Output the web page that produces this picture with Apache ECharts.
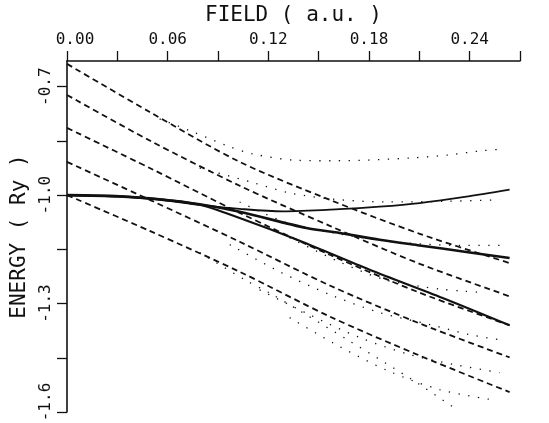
<!DOCTYPE html>
<html>
<head>
<meta charset="utf-8">
<script src="https://cdn.jsdelivr.net/npm/echarts@6/dist/echarts.min.js"></script>
<style>
  html, body { margin: 0; padding: 0; background: #fff; }
  #chart { width: 549px; height: 423px; }
</style>
</head>
<body>
<div id="chart"></div>
<script>
// axis ticks / labels
const xTickValues = [0, 0.03, 0.06, 0.09, 0.12, 0.15, 0.18, 0.21, 0.24, 0.27]
const xLabelValues = [0, 0.06, 0.12, 0.18, 0.24]
const yTickValues = [-1.6, -1.45, -1.3, -1.15, -1.0, -0.85, -0.7]
const yLabelValues = [-1.6, -1.3, -1.0, -0.7]

// solid curves  [field, energy]
const solid1 = [[0, -1.0], [0.0314, -1.0047], [0.0552, -1.013], [0.0791, -1.027], [0.1029, -1.038],
  [0.1285, -1.045], [0.1625, -1.039], [0.1863, -1.032], [0.2102, -1.022], [0.237, -1.005], [0.2638, -0.985]]
const solid2 = [[0, -1.0], [0.0314, -1.0033], [0.0552, -1.0116], [0.0791, -1.0254], [0.1029, -1.0461],
  [0.1427, -1.0911], [0.1625, -1.1049], [0.1864, -1.1234], [0.2102, -1.1392], [0.237, -1.1566], [0.2638, -1.174]]
const solid3 = [[0, -1.0], [0.0314, -1.0033], [0.0552, -1.0116], [0.0791, -1.0267], [0.1029, -1.0635],
  [0.1387, -1.1262], [0.1804, -1.2063], [0.2239, -1.2844], [0.2638, -1.3601]]

// dashed curves
const dashed1 = [[0, -0.637], [0.0493, -0.770], [0.1029, -0.908], [0.1566, -1.013], [0.2102, -1.107], [0.2638, -1.188]]
const dashed2 = [[0, -0.723], [0.0493, -0.849], [0.1029, -0.974], [0.1566, -1.085], [0.2102, -1.190], [0.2638, -1.280]]
const dashed3 = [[0, -0.814], [0.0493, -0.925], [0.1029, -1.049], [0.1566, -1.165], [0.2102, -1.270], [0.2638, -1.360]]
const dashed4 = [[0, -0.908], [0.0493, -1.013], [0.1029, -1.129], [0.1566, -1.250], [0.2102, -1.355], [0.2638, -1.449]]
const dashed5 = [[0, -1.0], [0.0493, -1.099], [0.1029, -1.212], [0.1566, -1.336], [0.2102, -1.444], [0.2638, -1.545]]

// dotted curves
const dotted1 = [[0.0552, -0.789], [0.0749, -0.825], [0.0958, -0.864], [0.1107, -0.886], [0.1375, -0.904],
  [0.1583, -0.905], [0.1792, -0.903], [0.206, -0.897], [0.2269, -0.889], [0.2477, -0.877], [0.2591, -0.873]]
const dotted2 = [[0.0791, -0.925], [0.1113, -0.966], [0.1327, -0.994], [0.1583, -1.011], [0.1905, -1.019],
  [0.2281, -1.017], [0.2579, -1.013]]
const dotted3 = [[0.1029, -1.019], [0.1297, -1.074], [0.1583, -1.104], [0.1864, -1.125], [0.2102, -1.135],
  [0.2341, -1.139], [0.2591, -1.139]]
const dotted4 = [[0.1327, -1.118], [0.1625, -1.185], [0.1893, -1.234], [0.2102, -1.252], [0.2221, -1.260],
  [0.237, -1.266], [0.2489, -1.270]]
const dotted5 = [[0.0791, -1.159], [0.1059, -1.234], [0.1208, -1.271], [0.1387, -1.320], [0.1685, -1.404],
  [0.1893, -1.463], [0.2102, -1.524], [0.2322, -1.593]]
const dotted6 = [[0.097, -1.137], [0.1268, -1.212], [0.1566, -1.275], [0.1864, -1.325], [0.2162, -1.358],
  [0.24, -1.386], [0.2579, -1.400]]
const dotted7 = [[0.1148, -1.262], [0.1446, -1.331], [0.1744, -1.394], [0.2042, -1.441], [0.231, -1.469], [0.2579, -1.491]]
const dotted8 = [[0.1327, -1.339], [0.1625, -1.419], [0.1923, -1.488], [0.2221, -1.538], [0.2519, -1.565]]

const ink = '#111'
const font = 'DejaVu Sans Mono'

const solidSeries = [[solid1, 1.8], [solid2, 2.6], [solid3, 2.1]].map(([d, w]) => ({
  type: 'line', data: d, smooth: 0.3, showSymbol: false, silent: true,
  lineStyle: { color: ink, width: w }
}))
const dashedSeries = [dashed1, dashed2, dashed3, dashed4, dashed5].map(d => ({
  type: 'line', data: d, smooth: 0.3, showSymbol: false, silent: true,
  lineStyle: { color: ink, width: 1.8, type: [6, 4] }
}))
const dottedSeries = [dotted1, dotted2, dotted3, dotted4, dotted5, dotted6, dotted7, dotted8].map(d => ({
  type: 'line', data: d, smooth: 0.3, showSymbol: false, silent: true,
  lineStyle: { color: ink, width: 1.3, type: [1.3, 8.5] }
}))

const labelText = { fontFamily: font, fontSize: 16, color: ink }

const chart = echarts.init(document.getElementById('chart'))
chart.setOption({
  animation: false,
  backgroundColor: '#fff',
  grid: { left: 67, right: 29, top: 61, bottom: 11, containLabel: false, outerBoundsMode: 'none' },
  xAxis: {
    type: 'value',
    position: 'top',
    min: 0,
    max: 0.27,
    name: 'FIELD ( a.u. )',
    nameLocation: 'middle',
    nameGap: 35,
    nameTextStyle: { fontFamily: font, fontSize: 21, color: ink },
    axisLine: { show: true, onZero: false, lineStyle: { color: ink, width: 1.6 } },
    axisTick: { show: true, inside: false, length: 10, customValues: xTickValues, lineStyle: { color: ink, width: 1.3 } },
    axisLabel: {
      customValues: xLabelValues,
      // first label sits a little right of its tick, as in the original
      formatter: v => (v === 0 ? '{first|0.00}' : v.toFixed(2)),
      rich: { first: { ...labelText, padding: [0, 0, 0, 16] } },
      margin: 13,
      ...labelText
    },
    splitLine: { show: false }
  },
  yAxis: {
    type: 'value',
    min: -1.6,
    max: -0.629,
    name: 'ENERGY ( Ry )',
    nameLocation: 'middle',
    nameGap: 31,
    nameTextStyle: { fontFamily: font, fontSize: 21, color: ink },
    axisLine: { show: true, onZero: false, lineStyle: { color: ink, width: 1.6 } },
    axisTick: { show: true, inside: false, length: 10, customValues: yTickValues, lineStyle: { color: ink, width: 1.3 } },
    axisLabel: {
      customValues: yLabelValues,
      // bottom label is lifted so it stays inside the frame
      formatter: v => (v === -1.6 ? '{low|-1.6}' : v.toFixed(1)),
      rich: { low: { ...labelText, padding: [0, 0, 0, 20] } },
      rotate: 90,
      margin: 13,
      ...labelText
    },
    splitLine: { show: false }
  },
  series: [...dottedSeries, ...dashedSeries, ...solidSeries]
})
</script>
</body>
</html>
